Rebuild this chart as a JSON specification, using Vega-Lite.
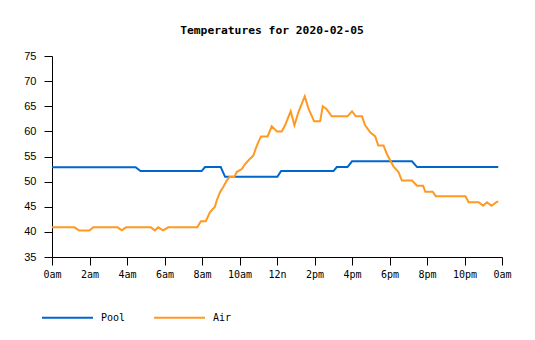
{
  "$schema": "https://vega.github.io/schema/vega-lite/v6.json",
  "width": 450,
  "height": 201,
  "autosize": {"type": "none"},
  "padding": {"left": 52, "top": 56, "right": 33, "bottom": 83},
  "background": "white",
  "config": {
    "view": {"stroke": null},
    "axis": {"grid": false, "domainColor": "black", "tickColor": "black", "labelColor": "black", "tickSize": 8, "domainWidth": 1, "tickWidth": 1}
  },
  "title": {
    "text": "Temperatures for 2020-02-05",
    "font": "DejaVu Sans Mono",
    "fontSize": 11.3,
    "fontWeight": "bold",
    "color": "black",
    "anchor": "middle",
    "frame": "group",
    "baseline": "alphabetic",
    "offset": 5,
    "dx": -5
  },
  "data": {
    "values": [
      {"h": 0, "temp": 52.85, "series": "Pool"},
      {"h": 4.46, "temp": 52.85, "series": "Pool"},
      {"h": 4.72, "temp": 52.1, "series": "Pool"},
      {"h": 7.98, "temp": 52.1, "series": "Pool"},
      {"h": 8.16, "temp": 52.9, "series": "Pool"},
      {"h": 9.0, "temp": 52.9, "series": "Pool"},
      {"h": 9.23, "temp": 50.95, "series": "Pool"},
      {"h": 12.02, "temp": 50.95, "series": "Pool"},
      {"h": 12.22, "temp": 52.1, "series": "Pool"},
      {"h": 15.01, "temp": 52.1, "series": "Pool"},
      {"h": 15.19, "temp": 52.9, "series": "Pool"},
      {"h": 15.76, "temp": 52.9, "series": "Pool"},
      {"h": 16.0, "temp": 54.05, "series": "Pool"},
      {"h": 19.2, "temp": 54.05, "series": "Pool"},
      {"h": 19.47, "temp": 52.9, "series": "Pool"},
      {"h": 23.8, "temp": 52.9, "series": "Pool"},
      {"h": 0, "temp": 40.9, "series": "Air"},
      {"h": 1.2, "temp": 40.9, "series": "Air"},
      {"h": 1.45, "temp": 40.25, "series": "Air"},
      {"h": 2.0, "temp": 40.25, "series": "Air"},
      {"h": 2.2, "temp": 40.9, "series": "Air"},
      {"h": 3.5, "temp": 40.9, "series": "Air"},
      {"h": 3.72, "temp": 40.3, "series": "Air"},
      {"h": 3.95, "temp": 40.9, "series": "Air"},
      {"h": 5.27, "temp": 40.9, "series": "Air"},
      {"h": 5.49, "temp": 40.3, "series": "Air"},
      {"h": 5.66, "temp": 40.9, "series": "Air"},
      {"h": 5.93, "temp": 40.3, "series": "Air"},
      {"h": 6.2, "temp": 40.9, "series": "Air"},
      {"h": 7.75, "temp": 40.9, "series": "Air"},
      {"h": 7.94, "temp": 42.1, "series": "Air"},
      {"h": 8.2, "temp": 42.1, "series": "Air"},
      {"h": 8.42, "temp": 43.9, "series": "Air"},
      {"h": 8.69, "temp": 45.0, "series": "Air"},
      {"h": 8.78, "temp": 46.2, "series": "Air"},
      {"h": 8.96, "temp": 47.9, "series": "Air"},
      {"h": 9.14, "temp": 49.0, "series": "Air"},
      {"h": 9.32, "temp": 50.2, "series": "Air"},
      {"h": 9.46, "temp": 50.9, "series": "Air"},
      {"h": 9.72, "temp": 50.9, "series": "Air"},
      {"h": 9.85, "temp": 51.9, "series": "Air"},
      {"h": 10.12, "temp": 52.5, "series": "Air"},
      {"h": 10.3, "temp": 53.5, "series": "Air"},
      {"h": 10.52, "temp": 54.4, "series": "Air"},
      {"h": 10.74, "temp": 55.2, "series": "Air"},
      {"h": 10.86, "temp": 56.5, "series": "Air"},
      {"h": 11.0, "temp": 57.8, "series": "Air"},
      {"h": 11.15, "temp": 59.0, "series": "Air"},
      {"h": 11.5, "temp": 59.0, "series": "Air"},
      {"h": 11.72, "temp": 61.0, "series": "Air"},
      {"h": 12.0, "temp": 60.0, "series": "Air"},
      {"h": 12.25, "temp": 60.0, "series": "Air"},
      {"h": 12.43, "temp": 61.2, "series": "Air"},
      {"h": 12.73, "temp": 64.0, "series": "Air"},
      {"h": 12.93, "temp": 61.2, "series": "Air"},
      {"h": 13.14, "temp": 63.8, "series": "Air"},
      {"h": 13.48, "temp": 67.0, "series": "Air"},
      {"h": 13.68, "temp": 64.5, "series": "Air"},
      {"h": 13.98, "temp": 62.0, "series": "Air"},
      {"h": 14.3, "temp": 62.0, "series": "Air"},
      {"h": 14.44, "temp": 65.0, "series": "Air"},
      {"h": 14.62, "temp": 64.5, "series": "Air"},
      {"h": 14.92, "temp": 63.0, "series": "Air"},
      {"h": 15.76, "temp": 63.0, "series": "Air"},
      {"h": 16.0, "temp": 64.0, "series": "Air"},
      {"h": 16.2, "temp": 63.0, "series": "Air"},
      {"h": 16.53, "temp": 63.0, "series": "Air"},
      {"h": 16.7, "temp": 61.2, "series": "Air"},
      {"h": 16.97, "temp": 59.8, "series": "Air"},
      {"h": 17.24, "temp": 59.0, "series": "Air"},
      {"h": 17.4, "temp": 57.2, "series": "Air"},
      {"h": 17.68, "temp": 57.2, "series": "Air"},
      {"h": 17.86, "temp": 55.5, "series": "Air"},
      {"h": 18.04, "temp": 54.2, "series": "Air"},
      {"h": 18.22, "temp": 53.0, "series": "Air"},
      {"h": 18.48, "temp": 51.9, "series": "Air"},
      {"h": 18.66, "temp": 50.2, "series": "Air"},
      {"h": 19.2, "temp": 50.2, "series": "Air"},
      {"h": 19.47, "temp": 49.2, "series": "Air"},
      {"h": 19.79, "temp": 49.2, "series": "Air"},
      {"h": 19.91, "temp": 48.0, "series": "Air"},
      {"h": 20.3, "temp": 48.0, "series": "Air"},
      {"h": 20.47, "temp": 47.1, "series": "Air"},
      {"h": 22.05, "temp": 47.1, "series": "Air"},
      {"h": 22.22, "temp": 45.9, "series": "Air"},
      {"h": 22.76, "temp": 45.9, "series": "Air"},
      {"h": 22.99, "temp": 45.2, "series": "Air"},
      {"h": 23.2, "temp": 45.9, "series": "Air"},
      {"h": 23.44, "temp": 45.2, "series": "Air"},
      {"h": 23.74, "temp": 46.0, "series": "Air"},
      {"h": 23.8, "temp": 46.0, "series": "Air"}
    ]
  },
  "mark": {"type": "line", "strokeWidth": 2, "interpolate": "linear"},
  "encoding": {
    "x": {
      "field": "h",
      "type": "quantitative",
      "scale": {"domain": [0, 24], "nice": false, "zero": false},
      "axis": {
        "title": null,
        "values": [0, 2, 4, 6, 8, 10, 12, 14, 16, 18, 20, 22, 24],
        "labelExpr": "datum.value == 0 || datum.value == 24 ? '0am' : datum.value < 12 ? datum.value + 'am' : datum.value == 12 ? '12n' : (datum.value - 12) + 'pm'",
        "labelFont": "DejaVu Sans Mono",
        "labelFontSize": 10,
        "labelPadding": 4,
        "labelFlush": false,
        "labelOverlap": false
      }
    },
    "y": {
      "field": "temp",
      "type": "quantitative",
      "scale": {"domain": [35, 75], "nice": false, "zero": false},
      "axis": {
        "title": null,
        "values": [35, 40, 45, 50, 55, 60, 65, 70, 75],
        "labelFont": "Liberation Sans",
        "labelFontSize": 11,
        "labelPadding": 8,
        "labelFlush": false,
        "labelOverlap": false
      }
    },
    "color": {
      "field": "series",
      "type": "nominal",
      "sort": ["Pool", "Air"],
      "scale": {"domain": ["Pool", "Air"], "range": ["#0066cc", "#ff9922"]},
      "legend": {
        "title": null,
        "orient": "none",
        "direction": "horizontal",
        "legendX": -11,
        "legendY": 235,
        "padding": 0,
        "symbolType": "stroke",
        "symbolSize": 2601,
        "symbolStrokeWidth": 2,
        "labelOffset": 7,
        "columnPadding": 24,
        "labelFont": "DejaVu Sans Mono",
        "labelFontSize": 10,
        "labelColor": "black"
      }
    }
  }
}
